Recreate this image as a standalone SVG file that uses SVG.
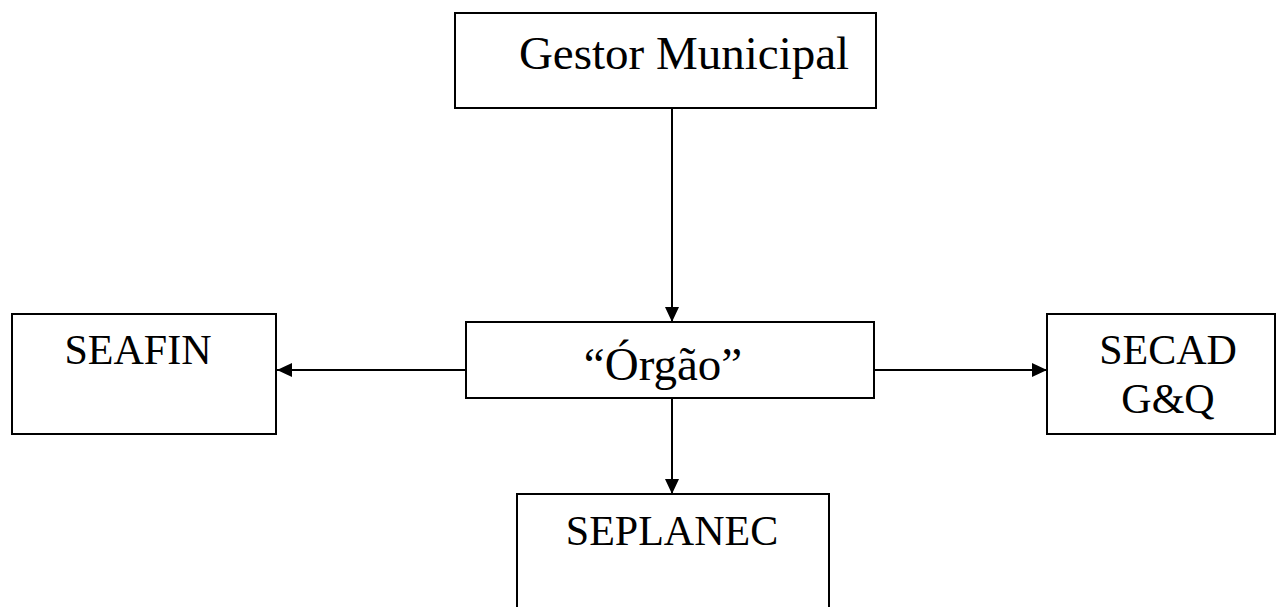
<svg xmlns="http://www.w3.org/2000/svg" width="1276" height="607" viewBox="0 0 1276 607">
<style>
.box{fill:#fff;stroke:#000;stroke-width:2}
.t{font-family:"Liberation Serif","Times New Roman",serif;fill:#000;text-anchor:middle}
.big{font-size:47px}
.sm{font-size:42px}
.c{stroke:#000;stroke-width:2;fill:none;marker-end:url(#ah)}
</style>
<defs>
<marker id="ah" viewBox="0 0 15 14" refX="15" refY="7" markerWidth="15" markerHeight="14" markerUnits="userSpaceOnUse" orient="auto">
<path d="M0,0 L15,7 L0,14 Z" fill="#000"/>
</marker>
</defs>
<rect x="0" y="0" width="1276" height="607" fill="#fff"/>
<g id="connectors">
<line class="c" x1="672" y1="108" x2="672" y2="322"/>
<line class="c" x1="466" y1="370" x2="277" y2="370"/>
<line class="c" x1="874" y1="370" x2="1047" y2="370"/>
<line class="c" x1="672" y1="398" x2="672" y2="494"/>
</g>
<g id="gestor">
<rect class="box" x="455" y="13" width="421" height="95"/>
<text class="t big" x="684" y="69">Gestor Municipal</text>
</g>
<g id="orgao">
<rect class="box" x="466" y="322" width="408" height="76"/>
<text class="t big" x="663" y="380">“Órgão”</text>
</g>
<g id="seafin">
<rect class="box" x="12" y="314" width="264" height="120"/>
<text class="t sm" x="138" y="364">SEAFIN</text>
</g>
<g id="secad">
<rect class="box" x="1047" y="314" width="228" height="120"/>
<text class="t sm" x="1168" y="364">SECAD</text>
<text class="t sm" x="1168" y="413">G&amp;Q</text>
</g>
<g id="seplanec">
<rect class="box" x="517" y="494" width="312" height="130"/>
<text class="t sm" x="672" y="545">SEPLANEC</text>
</g>
</svg>
